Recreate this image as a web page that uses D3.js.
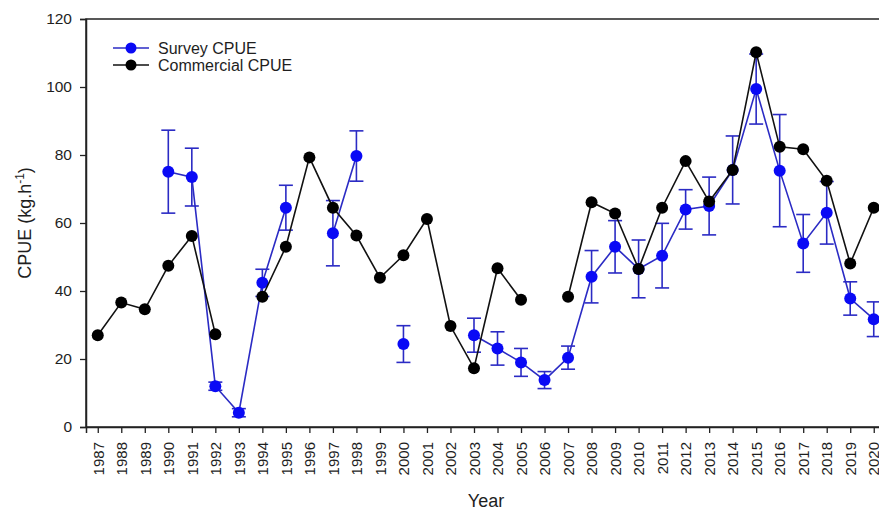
<!DOCTYPE html>
<html>
<head>
<meta charset="utf-8">
<script src="https://cdn.jsdelivr.net/npm/d3@7"></script>
<style>
  html, body { margin: 0; padding: 0; background: #fff; }
  svg { display: block; font-family: "Liberation Sans", Arial, sans-serif; }
</style>
</head>
<body>
<svg id="chart" width="879" height="511"></svg>
<script>
// Years on the x axis
const years = d3.range(1987, 2021);

// Survey CPUE (kg per hour) and its error half-width; null = no survey that year
const surveyCPUE = [null, null, null, 75.1, 73.5, 12.0, 4.2, 42.4, 64.5, null,
  57.0, 79.7, null, 24.4, null, null, 27.0, 23.1, 19.0, 13.8,
  20.4, 44.2, 53.0, 46.5, 50.4, 64.0, 65.0, 75.6, 99.4, 75.4,
  54.0, 63.0, 37.8, 31.7];
const surveyErr = [null, null, null, 12.2, 8.5, 1.2, 1.2, 4.0, 6.6, null,
  9.6, 7.4, null, 5.4, null, null, 5.0, 4.9, 4.1, 2.5,
  3.4, 7.7, 7.7, 8.5, 9.5, 5.8, 8.5, 10.0, 10.3, 16.5,
  8.5, 9.2, 4.9, 5.1];

// Commercial CPUE (kg per hour); null = no value that year
const commercialCPUE = [27.0, 36.6, 34.6, 47.4, 56.2, 27.3, null, 38.3, 53.0, 79.3,
  64.5, 56.3, 43.9, 50.5, 61.2, 29.7, 17.3, 46.7, 37.4, null,
  38.3, 66.1, 62.8, 46.5, 64.5, 78.2, 66.3, 75.6, 110.2, 82.4,
  81.7, 72.4, 48.1, 64.5];

const yTicks = [0, 20, 40, 60, 80, 100, 120];

const survey = years.map((yr, i) => ({ year: yr, v: surveyCPUE[i], e: surveyErr[i] }));
const commercial = years.map((yr, i) => ({ year: yr, v: commercialCPUE[i] }));

const svg = d3.select("#chart");
svg.append("rect").attr("width", 879).attr("height", 511).attr("fill", "#fff");

const plotL = 86, plotR = 885.5, plotT = 19, plotB = 427;
const x = d3.scaleLinear().domain([1986.5, 2020.5]).range([plotL, plotR]);
const y = d3.scaleLinear().domain([0, 120]).range([plotB, plotT]);

const axisColor = "#222";
const textColor = "#1e1e1e";

// Plot frame
svg.append("rect")
  .attr("x", plotL).attr("y", plotT)
  .attr("width", plotR - plotL).attr("height", plotB - plotT)
  .attr("fill", "none").attr("stroke", axisColor).attr("stroke-width", 1.5);

// Y axis
const yAxis = svg.append("g")
  .attr("transform", `translate(${plotL},0)`)
  .call(d3.axisLeft(y).tickValues(yTicks).tickSize(6).tickPadding(8));
yAxis.select(".domain").attr("stroke", axisColor).attr("stroke-width", 1.5);
yAxis.selectAll(".tick line").attr("stroke", axisColor).attr("stroke-width", 1.3);
yAxis.selectAll(".tick text").attr("font-size", 15.5).attr("fill", textColor);

// X axis with vertical year labels
const xAxis = svg.append("g")
  .attr("transform", `translate(0,${plotB})`)
  .call(d3.axisBottom(x).tickValues(years).tickFormat(d3.format("d")).tickSize(6));
xAxis.select(".domain").attr("stroke", axisColor).attr("stroke-width", 1.5);
xAxis.selectAll(".tick line").attr("stroke", axisColor).attr("stroke-width", 1.3);
xAxis.selectAll(".tick text")
  .attr("font-size", 15).attr("fill", textColor)
  .attr("transform", "rotate(-90)")
  .attr("x", -15).attr("y", 0).attr("dy", "0.35em")
  .attr("text-anchor", "end");

// Axis titles
svg.append("text")
  .attr("x", 486).attr("y", 507)
  .attr("text-anchor", "middle").attr("font-size", 18).attr("fill", textColor)
  .text("Year");

const yTitle = svg.append("text")
  .attr("transform", "translate(31,223) rotate(-90)")
  .attr("text-anchor", "middle").attr("font-size", 18).attr("fill", textColor);
yTitle.append("tspan").text("CPUE (kg.h");
yTitle.append("tspan").attr("dy", -7).attr("font-size", 12).text("-1");
yTitle.append("tspan").attr("dy", 7).text(")");

const blueLine = "#2b2bc4", blueDot = "#0a0af5";

const line = d3.line()
  .defined(d => d.v != null)
  .x(d => x(d.year)).y(d => y(d.v));

// Survey series: error bars, line, markers
const sv = survey.filter(d => d.v != null);
const eb = svg.append("g").attr("stroke", blueLine).attr("stroke-width", 1.6).attr("fill", "none");
sv.forEach(d => {
  const cx = x(d.year), y1 = y(d.v + d.e), y0 = y(d.v - d.e);
  eb.append("line").attr("x1", cx).attr("x2", cx).attr("y1", y1).attr("y2", y0);
  eb.append("line").attr("x1", cx - 7).attr("x2", cx + 7).attr("y1", y1).attr("y2", y1);
  eb.append("line").attr("x1", cx - 7).attr("x2", cx + 7).attr("y1", y0).attr("y2", y0);
});
svg.append("path").datum(survey)
  .attr("d", line).attr("fill", "none")
  .attr("stroke", blueLine).attr("stroke-width", 1.6);
svg.append("g").selectAll("circle").data(sv).join("circle")
  .attr("cx", d => x(d.year)).attr("cy", d => y(d.v)).attr("r", 6)
  .attr("fill", blueDot);

// Commercial series
const cv = commercial.filter(d => d.v != null);
svg.append("path").datum(commercial)
  .attr("d", line).attr("fill", "none")
  .attr("stroke", "#111").attr("stroke-width", 1.6);
svg.append("g").selectAll("circle").data(cv).join("circle")
  .attr("cx", d => x(d.year)).attr("cy", d => y(d.v)).attr("r", 6)
  .attr("fill", "#000");

// Legend
const legend = [
  { label: "Survey CPUE", line: blueLine, dot: blueDot, y: 48 },
  { label: "Commercial CPUE", line: "#111", dot: "#000", y: 65 }
];
const lg = svg.append("g");
legend.forEach(d => {
  lg.append("line").attr("x1", 113).attr("x2", 149).attr("y1", d.y).attr("y2", d.y)
    .attr("stroke", d.line).attr("stroke-width", 1.6);
  lg.append("circle").attr("cx", 131).attr("cy", d.y).attr("r", 5.5).attr("fill", d.dot);
  lg.append("text").attr("x", 158).attr("y", d.y).attr("dy", "0.35em")
    .attr("font-size", 16).attr("fill", textColor).text(d.label);
});
</script>
</body>
</html>
